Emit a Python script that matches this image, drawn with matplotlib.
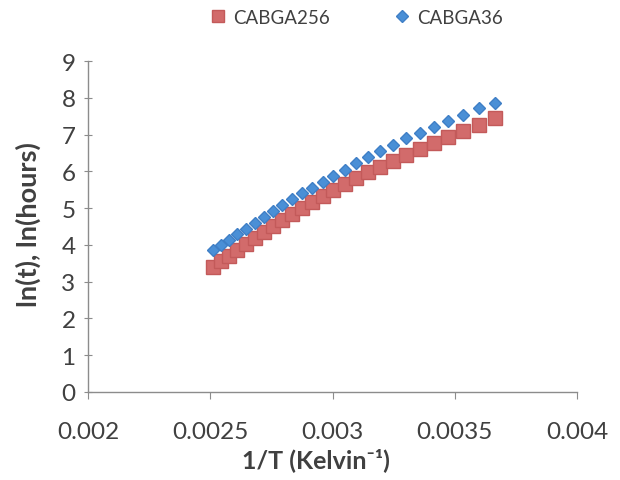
import matplotlib
matplotlib.use('Agg')
import matplotlib.pyplot as plt

# 1/T values (Kelvin^-1), 398 K down to 273 K in 5 K steps
inv_t = [0.0025126, 0.0025445, 0.0025773, 0.0026110, 0.0026455, 0.0026810,
         0.0027174, 0.0027548, 0.0027933, 0.0028329, 0.0028736, 0.0029155,
         0.0029586, 0.0030030, 0.0030488, 0.0030960, 0.0031447, 0.0031949,
         0.0032468, 0.0033003, 0.0033557, 0.0034130, 0.0034722, 0.0035336,
         0.0035971, 0.0036630]

cabga256 = [3.40, 3.55, 3.70, 3.86, 4.02, 4.18, 4.35, 4.52, 4.68, 4.85,
            5.01, 5.18, 5.34, 5.50, 5.66, 5.82, 5.97, 6.13, 6.29, 6.45,
            6.61, 6.77, 6.93, 7.10, 7.27, 7.45]

cabga36 = [3.85, 3.99, 4.14, 4.29, 4.44, 4.60, 4.76, 4.92, 5.08, 5.24,
           5.40, 5.56, 5.72, 5.88, 6.05, 6.22, 6.39, 6.56, 6.73, 6.90,
           7.05, 7.21, 7.37, 7.54, 7.71, 7.87]

xticks = [0.002, 0.0025, 0.003, 0.0035, 0.004]
xtick_labels = ['0.002', '0.0025', '0.003', '0.0035', '0.004']
yticks = list(range(0, 10))

plt.rcParams['font.family'] = ['Lato', 'DejaVu Sans']
TXT = '#404040'

fig = plt.figure(figsize=(6.2, 4.81), dpi=100)
ax = fig.add_axes([0.142, 0.183, 0.789, 0.688])

ax.plot(inv_t, cabga256, linestyle='none', marker='s', markersize=9.5,
        color='#d26b6b', markeredgecolor='#c35a5a', label='CABGA256')
ax.plot(inv_t, cabga36, linestyle='none', marker='D', markersize=6.5,
        color='#4a8fd6', markeredgecolor='#3f7fc6', label='CABGA36')

ax.set_xlim(0.002, 0.004)
ax.set_ylim(0, 9)
ax.set_xticks(xticks)
ax.set_xticklabels(xtick_labels)
ax.set_yticks(yticks)

for s in ['top', 'right']:
    ax.spines[s].set_visible(False)
for s in ['left', 'bottom']:
    ax.spines[s].set_color('#8c8c8c')
    ax.spines[s].set_linewidth(1)

ax.tick_params(axis='x', direction='out', length=5, color='#8c8c8c',
               labelsize=17.5, labelcolor=TXT, pad=16)
ax.tick_params(axis='y', direction='inout', length=6, color='#8c8c8c',
               labelsize=17.5, labelcolor=TXT, pad=6)

ax.set_xlabel('1/T (Kelvin⁻¹)', fontsize=18, fontweight='bold', color=TXT)
ax.set_ylabel('ln(t), ln(hours)', fontsize=19.5, fontweight='bold', color=TXT)
ax.xaxis.set_label_coords(0.465, -0.168)
ax.yaxis.set_label_coords(-0.097, 0.51)

leg = fig.legend(loc='upper center', bbox_to_anchor=(0.572, 1.015), ncol=2,
                 frameon=False, fontsize=13.5, handletextpad=0.15,
                 handlelength=1.3, columnspacing=3.2, markerscale=0.9)
for t in leg.get_texts():
    t.set_color(TXT)

fig.savefig('out.png', dpi=100)
